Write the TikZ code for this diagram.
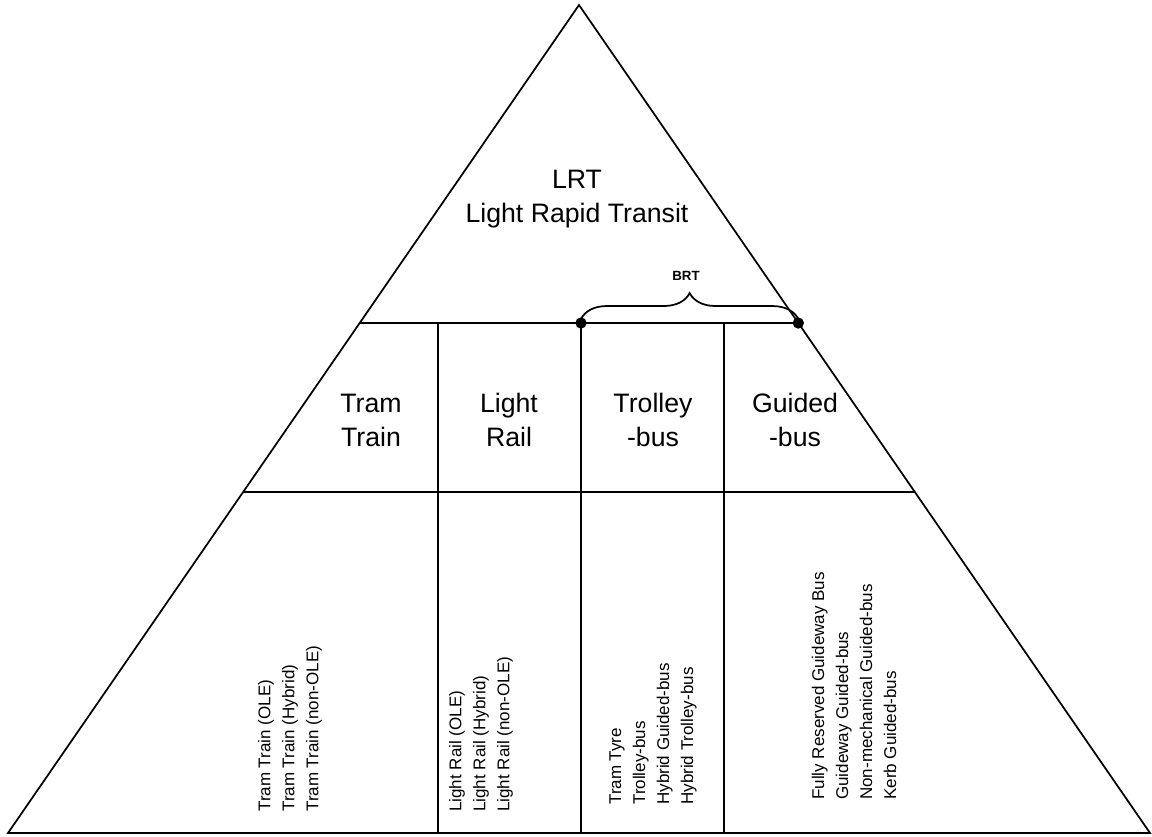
\documentclass[tikz,border=0pt]{standalone}
\usepackage{fontspec}
\setmainfont{Liberation Sans}
\usetikzlibrary{calc,decorations.pathreplacing}

\tikzset{
  edge/.style={line width=1.3pt},
  bigtext/.style={font=\fontsize{20}{25.5}\selectfont, align=center},
  modes/.style={font=\fontsize{12.75}{18}\selectfont, align=left, rotate=90,
    anchor=west, inner sep=0pt},
  junction/.style={circle, fill, inner sep=0pt, minimum size=8.5pt},
}

\begin{document}
\begin{tikzpicture}[x=0.75pt,y=-0.75pt]
\useasboundingbox (0,0) rectangle (1152,836);
% outline
\coordinate (top) at (579,5);
\coordinate (bl) at (8,833);
\coordinate (br) at (1150,833);
\draw[edge] (top) -- (bl) -- (br) -- cycle;
% rows
\coordinate (r1l) at ($(top)!0.3841!(bl)$);
\coordinate (r1r) at ($(top)!0.3841!(br)$);
\coordinate (r2l) at ($(top)!0.5882!(bl)$);
\coordinate (r2r) at ($(top)!0.5882!(br)$);
\draw[edge] (r1l) -- (r1r);
\draw[edge] (r2l) -- (r2r);
% columns
\coordinate (c1t) at (438,323); \coordinate (c1b) at (438,833);
\coordinate (c2t) at (581,323); \coordinate (c2b) at (581,833);
\coordinate (c3t) at (724,323); \coordinate (c3b) at (724,833);
\draw[edge] (c1t) -- (c1b);
\draw[edge] (c2t) -- (c2b);
\draw[edge] (c3t) -- (c3b);
% BRT span
\node[junction] (brtl) at (c2t) {};
\node[junction] (brtr) at (r1r) {};
\draw[edge, decorate, decoration={brace, amplitude=19.5pt, raise=3pt}]
  (brtl.center) -- (brtr.center);
\node[font=\fontsize{10}{12}\selectfont\bfseries] (brt) at (686,276) {BRT};
% labels
\node[bigtext] (lrt) at (577,199) {LRT\\Light Rapid Transit};
\node[bigtext] (tramtrain) at (371,420) {Tram\\Train};
\node[bigtext] (lightrail) at (509,420) {Light\\Rail};
\node[bigtext] (trolley) at (653,420) {Trolley\\-bus};
\node[bigtext] (guided) at (795,420) {Guided\\-bus};
\node[modes] (tramlist) at (290,812)
  {Tram Train (OLE)\\Tram Train (Hybrid)\\Tram Train (non-OLE)};
\node[modes] (raillist) at (481,812)
  {Light Rail (OLE)\\Light Rail (Hybrid)\\Light Rail (non-OLE)};
\node[modes] (trolleylist) at (653,805)
  {Tram Tyre\\Trolley-bus\\Hybrid Guided-bus\\Hybrid Trolley-bus};
\node[modes] (guidedlist) at (854,800)
  {Fully Reserved Guideway Bus\\Guideway Guided-bus\\Non-mechanical Guided-bus\\Kerb Guided-bus};
\end{tikzpicture}
\end{document}
